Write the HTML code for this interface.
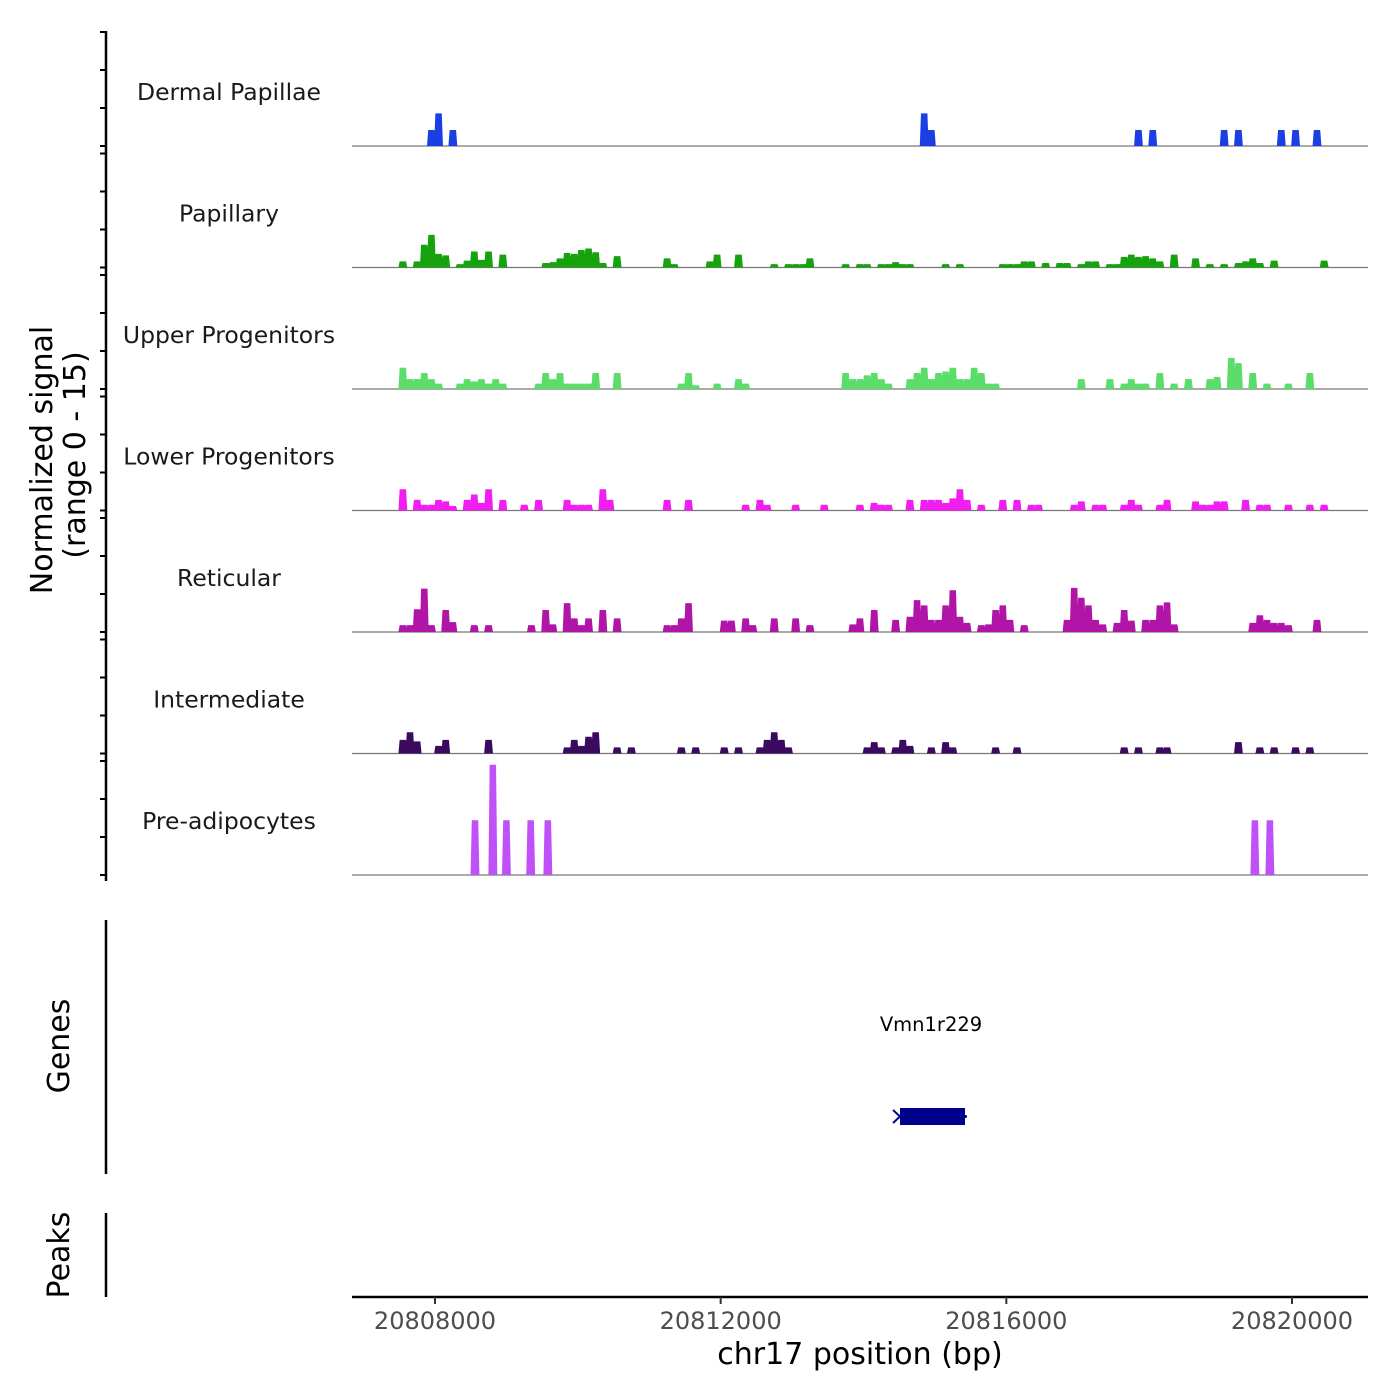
<!DOCTYPE html>
<html><head><meta charset="utf-8"><style>
html,body{margin:0;padding:0;background:#fff;}
svg{display:block;font-family:"DejaVu Sans","Liberation Sans",sans-serif;}
</style></head><body>
<svg id="chart" width="1400" height="1400" viewBox="0 0 1400 1400" xmlns="http://www.w3.org/2000/svg">
<g id="tracks"></g>
<g id="yaxis"></g>
<text transform="translate(52,460) rotate(-90)" text-anchor="middle" font-size="30" fill="#000">Normalized signal</text>
<text transform="translate(85,455) rotate(-90)" text-anchor="middle" font-size="30" fill="#000">(range 0 - 15)</text>
<g>
<line x1="106" y1="920" x2="106" y2="1174" stroke="#000" stroke-width="2.5"/>
<text transform="translate(69,1046) rotate(-90)" text-anchor="middle" font-size="30" fill="#000">Genes</text>
<text x="931" y="1031" text-anchor="middle" font-size="19.5" fill="#000">Vmn1r229</text>
<rect x="900" y="1108" width="65" height="17" fill="#00008B"/>
<path d="M893,1110 L900,1116.5 L893,1123" fill="none" stroke="#00008B" stroke-width="2"/>
<circle cx="965.5" cy="1116.5" r="1.5" fill="#00008B"/>
</g>
<g>
<line x1="106" y1="1213" x2="106" y2="1297" stroke="#000" stroke-width="2.5"/>
<text transform="translate(69,1255) rotate(-90)" text-anchor="middle" font-size="30" fill="#000">Peaks</text>
</g>
<g id="xaxis">
<line x1="352" y1="1297" x2="1368" y2="1297" stroke="#000" stroke-width="2.5"/>
</g>
<text x="860" y="1364" text-anchor="middle" font-size="30" fill="#000">chr17 position (bp)</text>
</svg>
<script>
// bins are 100 bp, bin index k -> genomic start 20807400 + 100*k
const trackNames = ["Dermal Papillae","Papillary","Upper Progenitors","Lower Progenitors","Reticular","Intermediate","Pre-adipocytes"];
const trackColors = ["#1C3FE3","#16A20C","#5BDD6A","#F01EF0","#B015A8","#3A0A5E","#C050F8"];
const xTicks = [20808000,20812000,20816000,20820000];
const dpBin = [5,6,8,74,75,104,106,116,118,124,126,129];
const dpVal = [2.1,4.3,2.1,4.3,2.1,2.1,2.1,2.1,2.1,2.1,2.1,2.1];
const paBin = [1,3,4,5,6,7,9,10,11,12,13,15,21,22,23,24,25,26,27,28,29,31,38,39,44,45,48,53,55,56,57,58,63,65,66,68,69,70,71,72,77,79,85,86,87,88,89,91,93,94,96,97,98,100,101,102,103,104,105,106,107,109,112,114,116,118,119,120,121,123,130];
const paVal = [0.8,0.8,3.0,4.3,1.8,1.6,0.45,0.9,2.1,1.0,2.1,1.7,0.6,0.7,1.2,1.9,1.8,2.3,2.5,2.0,0.6,1.5,1.2,0.45,0.8,1.7,1.7,0.45,0.45,0.45,0.45,1.2,0.45,0.45,0.45,0.45,0.45,0.7,0.45,0.45,0.45,0.45,0.45,0.45,0.45,0.8,0.8,0.6,0.6,0.6,0.45,0.8,0.8,0.45,0.45,1.4,1.7,1.4,1.5,1.2,0.8,1.7,1.2,0.45,0.45,0.6,0.8,1.2,0.6,0.9,0.9];
const upBin = [1,2,3,4,5,6,9,10,11,12,13,14,15,20,21,22,23,24,25,26,27,28,31,40,41,42,45,48,49,63,64,65,66,67,68,69,72,73,74,75,76,77,78,79,80,81,82,83,84,96,100,102,103,104,105,107,109,111,114,115,117,118,120,122,125,128];
const upVal = [2.8,1.3,1.3,2.1,1.3,0.7,0.7,1.3,1.0,1.3,0.7,1.3,0.7,0.7,2.1,1.3,2.1,0.7,0.7,0.7,0.7,2.1,2.1,0.7,2.1,0.5,0.7,1.3,0.7,2.1,1.3,1.3,1.8,2.1,1.3,0.7,1.3,2.1,2.8,1.3,2.1,2.3,2.8,1.3,1.3,2.8,2.1,0.7,0.7,1.3,1.3,0.7,1.3,0.7,0.7,2.1,0.7,1.3,1.3,1.6,4.1,3.4,2.1,0.7,0.7,2.1];
const loBin = [1,3,4,5,6,7,8,10,11,12,13,15,18,20,24,25,26,27,29,30,38,41,49,51,52,56,60,65,67,68,69,72,74,75,76,77,78,79,80,82,85,87,89,90,95,96,98,99,102,103,104,107,108,112,113,114,115,116,119,121,122,125,128,130];
const loVal = [2.8,1.4,0.75,0.75,1.4,1.2,0.6,1.4,2.1,1.0,2.8,1.4,0.75,1.4,1.4,0.75,0.75,0.75,2.8,1.4,1.4,1.4,0.75,1.4,0.75,0.75,0.75,0.75,1.0,0.75,0.75,1.4,1.4,1.4,1.4,1.0,1.6,2.8,1.4,0.75,1.4,1.4,0.75,0.75,0.75,1.2,0.75,0.75,0.75,1.4,0.75,0.75,1.4,1.2,0.75,0.75,1.2,1.2,1.4,0.75,0.75,0.75,0.75,0.75];
const reBin = [1,2,3,4,5,7,8,11,13,19,21,22,24,25,26,27,29,31,38,39,40,41,46,47,49,50,53,56,58,64,65,67,70,72,73,74,75,76,77,78,79,80,82,83,84,85,86,88,94,95,96,97,98,99,101,102,103,105,106,107,108,109,120,121,122,123,124,125,129];
const reVal = [0.9,0.9,3.0,5.7,0.9,2.9,1.3,0.9,0.9,0.9,2.9,1.0,3.8,1.8,0.9,1.8,2.9,1.8,0.9,0.9,1.8,3.8,1.5,1.5,1.8,0.9,1.8,1.8,0.9,1.0,1.8,2.9,1.6,2.0,4.2,3.5,1.6,1.6,3.5,5.5,2.0,1.2,0.9,1.0,2.9,3.5,1.6,0.9,1.6,5.8,4.5,3.5,1.6,1.0,1.2,2.9,1.5,1.6,1.6,3.5,3.9,1.0,1.2,2.2,1.6,1.2,1.2,0.9,1.6];
const inBin = [1,2,3,6,7,13,24,25,26,27,28,31,33,40,42,46,48,51,52,53,54,55,66,67,68,70,71,72,75,77,78,84,87,102,104,107,108,118,121,123,126,128];
const inVal = [1.8,2.8,1.6,1.0,1.8,1.8,0.8,1.8,1.0,2.2,2.8,0.8,0.8,0.8,0.8,0.8,0.8,0.8,1.8,2.8,1.8,0.8,0.8,1.5,0.8,0.8,1.8,1.0,0.8,1.5,0.8,0.8,0.8,0.8,0.8,0.8,0.8,1.5,0.8,0.8,0.8,0.8];
const prBin = [11.1,13.6,15.5,18.9,21.3,120.3,122.4];
const prVal = [7.2,14.5,7.2,7.2,7.2,7.2,7.2];
const trackBins = [dpBin,paBin,upBin,loBin,reBin,inBin,prBin];
const trackVals = [dpVal,paVal,upVal,loVal,reVal,inVal,prVal];

const NS = "http://www.w3.org/2000/svg";
const xMin = 20808000, xMax = 20820000, pxMin = 435, pxMax = 1292;
function xScale(bp){ return pxMin + (bp - xMin) * (pxMax - pxMin) / (xMax - xMin); }
const firstBaseline = 146, trackStep = 121.5, trackH = 114, yMaxVal = 15;
function yScale(v, base){ return base - v / yMaxVal * trackH; }
function binCenter(k){ return 20807400 + 100 * k + 50; }

const tracksG = document.getElementById("tracks");
const yaxisG = document.getElementById("yaxis");
trackNames.forEach(function(name, i){
  const base = firstBaseline + i * trackStep;
  const g = document.createElementNS(NS, "g");
  
  
  const lab = document.createElementNS(NS, "text");
  
  
  lab.setAttribute("x", 229); lab.setAttribute("y", base - 46);
  lab.setAttribute("text-anchor", "middle"); lab.setAttribute("font-size", "23.5"); lab.setAttribute("fill", "#1a1a1a");
  lab.textContent = name;
  g.appendChild(lab);
  const bl = document.createElementNS(NS, "line");
  
  
  bl.setAttribute("x1", 352); bl.setAttribute("x2", 1368); bl.setAttribute("y1", base); bl.setAttribute("y2", base);
  bl.setAttribute("stroke", "#777"); bl.setAttribute("stroke-width", "1.2");
  g.appendChild(bl);
  const bins = trackBins[i], vals = trackVals[i];
  let d = "";
  for (let j = 0; j < bins.length; j++) {
    const c = binCenter(bins[j]);
    const x0 = xScale(c - 62), x1 = xScale(c - 45), x2 = xScale(c + 45), x3 = xScale(c + 62);
    const yt = yScale(vals[j], base);
    d += "M" + x0.toFixed(2) + "," + base + "L" + x1.toFixed(2) + "," + yt.toFixed(2) + "L" + x2.toFixed(2) + "," + yt.toFixed(2) + "L" + x3.toFixed(2) + "," + base + "Z";
  }
  const p = document.createElementNS(NS, "path");
  
  
  p.setAttribute("d", d); p.setAttribute("fill", trackColors[i]);
  g.appendChild(p);
  tracksG.appendChild(g);
  [0,5,10,15].forEach(function(t){
    const y = yScale(t, base);
    const tk = document.createElementNS(NS, "line");
    
    
    tk.setAttribute("x1", 100); tk.setAttribute("x2", 106); tk.setAttribute("y1", y); tk.setAttribute("y2", y);
    tk.setAttribute("stroke", "#000"); tk.setAttribute("stroke-width", "2");
    yaxisG.appendChild(tk);
  });
});
const yl = document.createElementNS(NS, "line");


yl.setAttribute("x1", 106); yl.setAttribute("x2", 106); yl.setAttribute("y1", 31); yl.setAttribute("y2", 881);
yl.setAttribute("stroke", "#000"); yl.setAttribute("stroke-width", "2.5");
yaxisG.appendChild(yl);

const xaxisG = document.getElementById("xaxis");
xTicks.forEach(function(t){
  const x = xScale(t);
  const tk = document.createElementNS(NS, "line");
  
  
  tk.setAttribute("x1", x); tk.setAttribute("x2", x); tk.setAttribute("y1", 1297); tk.setAttribute("y2", 1304);
  tk.setAttribute("stroke", "#333"); tk.setAttribute("stroke-width", "2");
  xaxisG.appendChild(tk);
  const lb = document.createElementNS(NS, "text");
  
  
  lb.setAttribute("x", x); lb.setAttribute("y", 1329);
  lb.setAttribute("text-anchor", "middle"); lb.setAttribute("font-size", "24"); lb.setAttribute("fill", "#4d4d4d");
  lb.textContent = String(t);
  xaxisG.appendChild(lb);
});
</script>
</body></html>
